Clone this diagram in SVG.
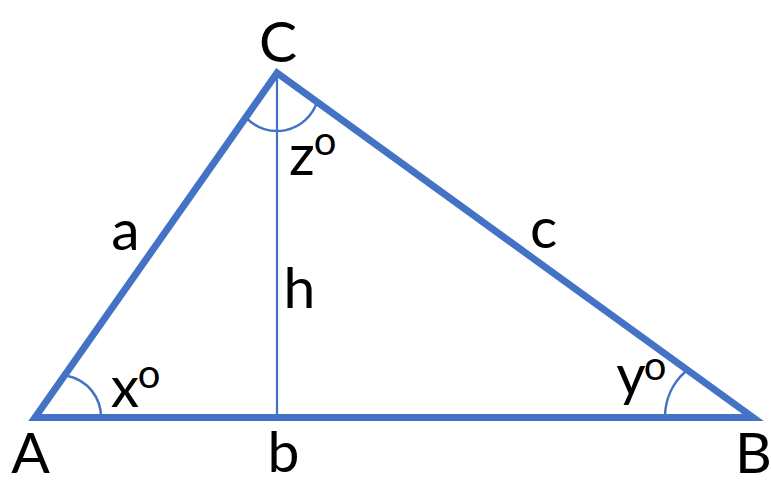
<svg xmlns="http://www.w3.org/2000/svg" width="771" height="491" viewBox="0 0 771 491">
<style>
.edge{fill:none;stroke:#4472C4;stroke-width:7;stroke-linejoin:miter}
.arc{fill:none;stroke:#4472C4;stroke-width:2.5}
.alt{fill:none;stroke:#4472C4;stroke-width:2.2}
.lbl{font-family:Lato,"Liberation Sans",sans-serif;font-size:57px;fill:#000;text-anchor:middle}
.sup{font-size:40px}
</style>
<rect width="771" height="491" fill="#fff"/>
<g id="connectors">
<line class="alt" x1="277" y1="73" x2="277" y2="417.5"/>
<path class="arc" d="M 68 376 A 42 42 0 0 1 101 417.5"/>
<path class="arc" d="M 685 372 A 61 61 0 0 0 665 417.5"/>
<path class="arc" d="M 245.9 117.3 A 42 42 0 0 0 317 101.9"/>
<path class="edge" d="M 35 417.5 L 753 417.5 L 277 73 Z"/>
</g>
<g id="A"><text class="lbl" x="30.5" y="473">A</text></g>
<g id="B"><text class="lbl" x="753.5" y="473">B</text></g>
<g id="C"><text class="lbl" x="278" y="62">C</text></g>
<g id="side-a"><text class="lbl" x="125.5" y="250">a</text></g>
<g id="side-b"><text class="lbl" x="283.5" y="472">b</text></g>
<g id="side-c"><text class="lbl" x="543.5" y="248">c</text></g>
<g id="height-h"><text class="lbl" x="299.5" y="308">h</text></g>
<g id="angle-x"><text class="lbl"><tspan x="125" y="407">x</tspan><tspan class="sup" x="149" y="388">o</tspan></text></g>
<g id="angle-y"><text class="lbl"><tspan x="631" y="395">y</tspan><tspan class="sup" x="655" y="380">o</tspan></text></g>
<g id="angle-z"><text class="lbl"><tspan x="302" y="175">z</tspan><tspan class="sup" x="325" y="155">o</tspan></text></g>
</svg>
